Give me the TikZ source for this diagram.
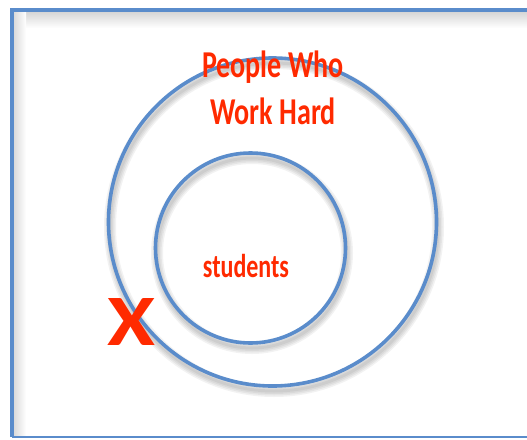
\documentclass[tikz,border=0pt]{standalone}
\usepackage{fontspec}
\setmainfont{Carlito}
\usepackage{graphicx}
\definecolor{lineblue}{HTML}{5A8CCB}
\definecolor{txtred}{HTML}{FF2A00}
\begin{document}
\begin{tikzpicture}[x=1pt,y=-1pt,
  ring/.style={circle, draw=lineblue, line width=3.6pt, inner sep=0pt},
  ringshadow/.style={draw=black, line width=#1, opacity=0.05},
  redtext/.style={text=txtred, inner sep=0pt, font=\bfseries}]
\useasboundingbox (0,0) rectangle (527,439);
\clip (0,0) rectangle (527,439);
% frame inner shadow
\shade[top color=black!16, bottom color=white] (14,12) rectangle (545,28);
\shade[left color=black!14, right color=white] (14,12) rectangle (26,435);
\fill[white] (26,28) rectangle (545,435);
% frame
\draw[lineblue, line width=4pt] (12,437) -- (12,10) -- (545,10);
\draw[lineblue, line width=2pt] (12,437) -- (545,437);
% circle shadows
\foreach \w in {3,6,9,12} {
  \draw[ringshadow=\w pt] (274,227) circle (164);
  \draw[ringshadow=\w pt] (252,253) circle (95);
}
% circles
\node[ring, minimum size=328pt] (outer) at (272.5,222) {};
\node[ring, minimum size=190pt] (inner) at (250.5,248) {};
% labels
\node[redtext, anchor=north, align=center,
  font=\bfseries\fontsize{27.5}{47}\selectfont] (work) at (273,51)
  {\scalebox{1.02}[1.38]{People Who}\\\scalebox{1.02}[1.38]{Work Hard}};
\node[redtext, anchor=base, font=\bfseries\fontsize{24}{28}\selectfont] (stud) at (246,277)
  {\scalebox{1}[1.38]{students}};
\node[redtext] (cross) at (131,321.5) {\resizebox{48pt}{47pt}{X}};
\end{tikzpicture}
\end{document}
